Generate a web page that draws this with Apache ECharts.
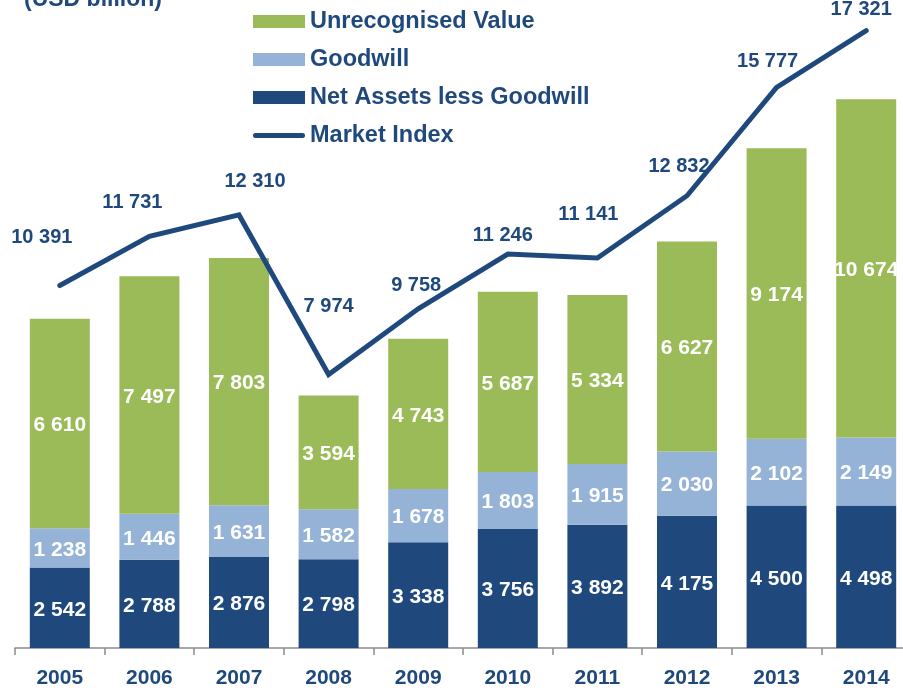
<!DOCTYPE html>
<html>
<head>
<meta charset="utf-8">
<script src="https://cdn.jsdelivr.net/npm/echarts@6/dist/echarts.min.js"></script>
<style>
    html, body { margin: 0; padding: 0; background: #fff; }
    #chart { width: 903px; height: 692px; }
</style>
</head>
<body>
<div id="chart"></div>
<script>
const years = ['2005', '2006', '2007', '2008', '2009', '2010', '2011', '2012', '2013', '2014']
const netAssets = [2542, 2788, 2876, 2798, 3338, 3756, 3892, 4175, 4500, 4498]
const goodwill = [1238, 1446, 1631, 1582, 1678, 1803, 1915, 2030, 2102, 2149]
const unrecognised = [6610, 7497, 7803, 3594, 4743, 5687, 5334, 6627, 9174, 10674]
const marketIndex = [10391, 11731, 12310, 7974, 9758, 11246, 11141, 12832, 15777, 17321]

// nudges for the index labels, like the hand placed labels of the original
const indexLabelNudge = [[-18, -48], [-17, -34], [16, -33], [0, -68], [-2, -23],
    [-5, -19], [-9, -43], [-8, -29], [-9, -26], [-5, -21]]

const navy = '#1F497D'
const font = 'Liberation Sans, Arial, sans-serif'

function fmt(v) {
    if (v < 1000) return String(v)
    let rest = String(v % 1000)
    while (rest.length < 3) rest = '0' + rest
    return Math.floor(v / 1000) + ' ' + rest
}

const barLabel = {
    show: true,
    position: 'inside',
    offset: [0, 2],
    color: '#fff',
    fontWeight: 'bold',
    fontSize: 21,
    fontFamily: font,
    formatter: p => fmt(p.value)
}

const chart = echarts.init(document.getElementById('chart'))

let option = {
    animation: false,
    title: {
        text: '(USD billion)',
        left: 19,
        top: -17,
        textStyle: { color: navy, fontSize: 23, fontWeight: 'bold', fontFamily: font }
    },
    legend: {
        orient: 'vertical',
        left: 248,
        top: 4,
        itemWidth: 52,
        itemHeight: 13,
        itemGap: 13,
        textStyle: { color: navy, fontSize: 23.5, fontWeight: 'bold', fontFamily: font, lineHeight: 25 },
        data: [
            { name: 'Unrecognised Value', icon: 'rect' },
            { name: 'Goodwill', icon: 'rect' },
            { name: 'Net Assets less Goodwill', icon: 'rect' },
            { name: 'Market Index', icon: 'path://M2.5,0 L49.5,0 A2.5,2.5 0 0 1 49.5,5 L2.5,5 A2.5,2.5 0 0 1 2.5,0 Z' }
        ]
    },
    grid: {
        left: 15,
        right: -8,
        top: 14.4,
        bottom: 44,
        outerBoundsMode: 'none'
    },
    xAxis: {
        type: 'category',
        data: years,
        axisLine: { lineStyle: { color: '#8c8c8c', width: 1.5 } },
        axisTick: { show: true, length: 7, lineStyle: { color: '#8c8c8c', width: 1.5 } },
        axisLabel: {
            color: navy,
            fontSize: 21,
            fontWeight: 'bold',
            fontFamily: 'Liberation Sans Narrow, Arial Narrow, Liberation Sans, sans-serif',
            margin: 20
        }
    },
    yAxis: [
        { type: 'value', min: 0, max: 20000, show: false },
        { type: 'value', min: 540, max: 17760, show: false }
    ],
    series: [
        {
            name: 'Net Assets less Goodwill',
            type: 'bar',
            stack: 'total',
            barWidth: 60,
            itemStyle: { color: navy },
            label: barLabel,
            data: netAssets
        },
        {
            name: 'Goodwill',
            type: 'bar',
            stack: 'total',
            barWidth: 60,
            itemStyle: { color: '#95B3D7' },
            label: barLabel,
            data: goodwill
        },
        {
            name: 'Unrecognised Value',
            type: 'bar',
            stack: 'total',
            barWidth: 60,
            itemStyle: { color: '#9BBB59' },
            label: barLabel,
            data: unrecognised
        },
        {
            name: 'Market Index',
            type: 'line',
            yAxisIndex: 1,
            symbol: 'circle',
            symbolSize: 0.1,
            showSymbol: true,
            clip: false,
            z: 3,
            lineStyle: { color: navy, width: 5, cap: 'round', join: 'miter' },
            itemStyle: { color: navy },
            label: {
                show: true,
                position: 'inside',
                color: navy,
                fontSize: 20,
                fontWeight: 'bold',
                fontFamily: font,
                formatter: p => fmt(p.value)
            },
            data: marketIndex.map((v, i) => ({
                value: v,
                label: { offset: indexLabelNudge[i] }
            }))
        }
    ]
}

chart.setOption(option)
</script>
</body>
</html>
